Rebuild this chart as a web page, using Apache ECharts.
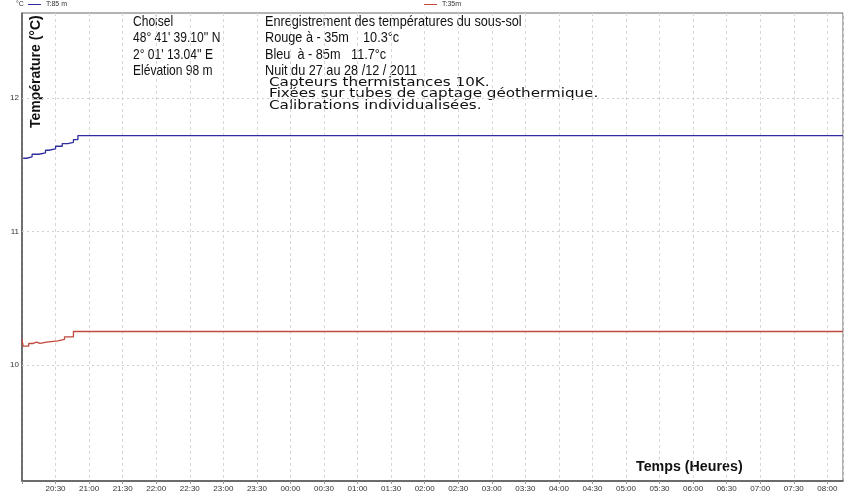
<!DOCTYPE html>
<html>
<head>
<meta charset="utf-8">
<script src="https://cdn.jsdelivr.net/npm/echarts@6/dist/echarts.min.js"></script>
<style>html,body{margin:0;padding:0;background:#fff;}#c{width:850px;height:494px;}</style>
</head>
<body>
<div id="c"></div>
<script>
// minutes after 20:00
const blueTimes = [1, 4, 9, 15, 21, 24, 30, 36, 41, 46, 50, 734];
const blueValues = [11.55, 11.56, 11.58, 11.59, 11.61, 11.62, 11.64, 11.66, 11.67, 11.69, 11.72, 11.72];
const redTimes = [0, 1, 3, 6, 10, 13, 16, 22, 32, 38, 46, 734];
const redValues = [10.19, 10.14, 10.14, 10.16, 10.17, 10.16, 10.17, 10.18, 10.19, 10.21, 10.25, 10.25];
const yTicks = [10, 11, 12];
const seriesNames = ['T:85 m', 'T:35m'];
const infoLeft = ['Choisel', "48° 41' 39.10'' N", "2° 01' 13.04'' E", 'Elévation 98 m'];
const infoRight = ['Enregistrement des températures du sous-sol', 'Rouge à - 35m    10.3°c', 'Bleu  à - 85m   11.7°c', 'Nuit du 27 au 28 /12 / 2011'];
const infoNotes = ['Capteurs thermistances 10K.', 'Fixées sur tubes de captage géothermique.', 'Calibrations individualisées.'];

function fmtTime(m) {
  const t = (20 * 60 + m) % (24 * 60);
  const h = Math.floor(t / 60), mm = t % 60;
  return String(h).padStart(2, '0') + ':' + String(mm).padStart(2, '0');
}
const zip = (a, b) => a.map((v, i) => [v, b[i]]);

const chart = echarts.init(document.getElementById('c'));
const sans = '"Liberation Sans", Arial, sans-serif';
const graphics = [];
infoLeft.forEach((t, i) => graphics.push({type: 'text', x: 133, y: 14 + i * 16.5, scaleX: 0.83,
  style: {text: t, font: '14.5px ' + sans, fill: '#111'}}));
infoRight.forEach((t, i) => graphics.push({type: 'text', x: 265, y: 14 + i * 16.5, scaleX: 0.875,
  style: {text: t, font: '14.5px ' + sans, fill: '#111'}}));
infoNotes.forEach((t, i) => graphics.push({type: 'text', x: 269, y: 77 + i * 11.5, scaleX: 1.32,
  style: {text: t, font: '11.5px "DejaVu Sans", sans-serif', fill: '#111'}}));
graphics.push({type: 'text', x: 636, y: 459, scaleX: 0.95, style: {text: 'Temps (Heures)', font: 'bold 15px ' + sans, fill: '#111'}});
graphics.push({type: 'text', x: 29, y: 128, rotation: Math.PI / 2,
  style: {text: 'Température (°C)', font: 'bold 14px ' + sans, fill: '#111', align: 'left', verticalAlign: 'top'}});
graphics.push({type: 'text', left: 16, top: 1, style: {text: '°C', font: '7px ' + sans, fill: '#333'}});

chart.setOption({
  animation: false,
  backgroundColor: '#fff',
  grid: {left: 22, top: 13, right: 7, bottom: 13, show: true, borderColor: '#666', borderWidth: 1, backgroundColor: '#fff'},
  legend: [
    {data: [seriesNames[0]], left: 28, top: 1, itemWidth: 13, itemHeight: 1, icon: 'rect', itemGap: 4, padding: 0,
     textStyle: {fontSize: 7, color: '#333', fontFamily: 'Liberation Sans'}},
    {data: [seriesNames[1]], left: 424, top: 1, itemWidth: 13, itemHeight: 1, icon: 'rect', padding: 0,
     textStyle: {fontSize: 7, color: '#333', fontFamily: 'Liberation Sans'}}
  ],
  xAxis: {
    type: 'value', min: 0, max: 734, interval: 30,
    axisLine: {lineStyle: {color: '#555', width: 1.5}},
    axisTick: {length: 3, lineStyle: {color: '#999'}},
    axisLabel: {margin: 4, fontSize: 8, color: '#333', fontFamily: sans, showMaxLabel: false,
      formatter: v => (v === 0 ? '' : fmtTime(v))},
    splitLine: {show: true, lineStyle: {color: '#d8d8d8', type: [3, 3], width: 1}}
  },
  yAxis: {
    type: 'value', min: 9.128, max: 12.64,
    axisLine: {show: true, lineStyle: {color: '#555', width: 1.5}},
    axisTick: {show: false, customValues: yTicks},
    axisLabel: {margin: 3, fontSize: 8, color: '#333', fontFamily: sans, customValues: yTicks,
      formatter: v => String(Math.round(v))},
    splitLine: {show: false}
  },
  series: [
    {name: seriesNames[0], type: 'line', step: 'end', showSymbol: false, data: zip(blueTimes, blueValues),
     lineStyle: {color: '#2e2e9e', width: 1.3}, itemStyle: {color: '#2e2e9e'},
     markLine: {silent: true, symbol: 'none', label: {show: false}, animation: false,
       lineStyle: {color: '#d0d0d0', type: [2, 3], width: 1},
       data: yTicks.map(v => ({yAxis: v}))}},
    {name: seriesNames[1], type: 'line', step: 'end', showSymbol: false, data: zip(redTimes, redValues),
     lineStyle: {color: '#c0483e', width: 1.3}, itemStyle: {color: '#c0483e'}}
  ],
  graphic: graphics
});
</script>
</body>
</html>
